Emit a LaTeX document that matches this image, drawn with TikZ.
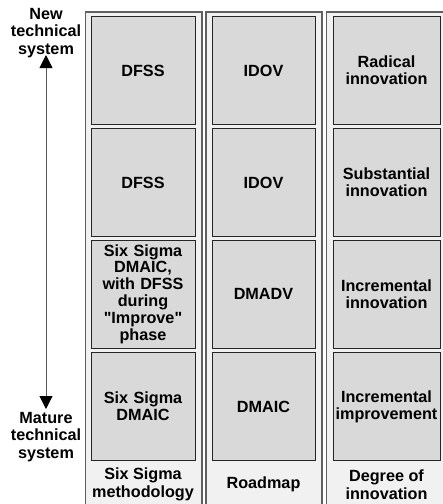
\documentclass[tikz,border=0pt]{standalone}
\usepackage{fontspec}
\setmainfont{Liberation Sans}[Ligatures=TeXOff]
\usetikzlibrary{arrows.meta}
\definecolor{colfill}{HTML}{F1F1F1}
\definecolor{boxfill}{HTML}{D9D9D9}
\tikzset{
  colbox/.style={draw=gray!75!black, line width=1.2pt, fill=colfill},
  cellbox/.style={draw=black!85, line width=1pt, fill=boxfill, rectangle, inner sep=0pt,
    minimum height=108pt, align=center, font=\bfseries\fontsize{16.2}{16.8}\selectfont},
  lbl/.style={inner sep=0pt, align=center, font=\bfseries\fontsize{16.2}{17.8}\selectfont},
  bothtips/.style={draw=gray!70!black, line width=1pt,
    {Triangle[width=13pt,length=13pt,color=black]}-{Triangle[width=13pt,length=13pt,color=black]}}
}
\begin{document}
\begin{tikzpicture}[x=1pt,y=-1pt]
\useasboundingbox (0,0) rectangle (443,504);
% columns
\draw[colbox] (85.5,12) rectangle (202,510);
\draw[colbox] (206,12) rectangle (322,510);
\draw[colbox] (326.5,12) rectangle (448,510);
% column 1
\node[cellbox, minimum width=104pt, text width=102pt] (a1) at (143,70.5) {DFSS};
\node[cellbox, minimum width=104pt, text width=102pt] (a2) at (143,182.5) {DFSS};
\node[cellbox, minimum width=104pt, text width=102pt] (a3) at (143,294) {Six Sigma\\DMAIC,\\with DFSS\\during\\"Improve"\\phase};
\node[cellbox, minimum width=104pt, text width=102pt] (a4) at (143,406.5) {Six Sigma\\DMAIC};
% column 2
\node[cellbox, minimum width=103pt, text width=101pt] (b1) at (263.5,70.5) {IDOV};
\node[cellbox, minimum width=103pt, text width=101pt] (b2) at (263.5,182.5) {IDOV};
\node[cellbox, minimum width=103pt, text width=101pt] (b3) at (263.5,294) {DMADV};
\node[cellbox, minimum width=103pt, text width=101pt] (b4) at (263.5,406.5) {DMAIC};
% column 3
\node[cellbox, minimum width=107pt, text width=106pt] (c1) at (386.5,70.5) {Radical\\innovation};
\node[cellbox, minimum width=107pt, text width=106pt] (c2) at (386.5,182.5) {Substantial\\innovation};
\node[cellbox, minimum width=107pt, text width=106pt] (c3) at (386.5,294) {Incremental\\innovation};
\node[cellbox, minimum width=107pt, text width=106pt] (c4) at (386.5,406.5) {Incremental\\improvement};
% bottom labels
\node[lbl] (l1) at (143,484.5) {Six Sigma\\methodology};
\node[lbl] (l2) at (263.5,484.5) {Roadmap};
\node[lbl] (l3) at (386.5,484.5) {Degree of\\innovation};
% side labels and arrow
\node[lbl] (newsys) at (46,33) {New\\technical\\system};
\node[lbl] (oldsys) at (46,437) {Mature\\technical\\system};
\coordinate (atop) at (46,55);
\coordinate (abot) at (46,409);
\draw[bothtips] (atop) -- (abot);
\end{tikzpicture}
\end{document}
